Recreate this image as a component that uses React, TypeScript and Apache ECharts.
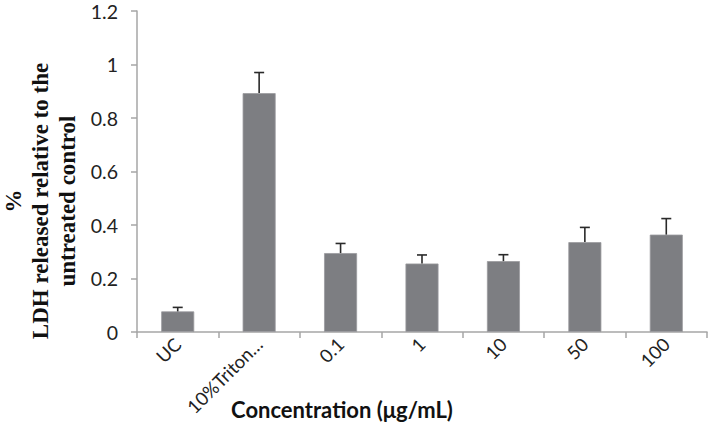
import React, { useEffect, useRef } from "react";
import * as echarts from "echarts";

const categories = ["UC", "10%Triton…", "0.1", "1", "10", "50", "100"];
const values = [0.077, 0.893, 0.295, 0.256, 0.265, 0.336, 0.364];
const errorTops = [0.092, 0.97, 0.331, 0.288, 0.289, 0.391, 0.424];
const yTicks = { min: 0, max: 1.2, interval: 0.2 };

export default function App() {
  const ref = useRef<HTMLDivElement>(null);
  useEffect(() => {
    const chart = echarts.init(ref.current!, undefined, { renderer: "svg" });
    const errData = categories.map((_, i) => [i, values[i], errorTops[i]]);
    chart.setOption({
      animation: false,
      backgroundColor: "#ffffff",
      grid: { left: 137, top: 11, right: 1, bottom: 92, containLabel: false },
      xAxis: {
        type: "category",
        data: categories,
        axisLine: { show: true, lineStyle: { color: "#a6a6a6", width: 1.5 } },
        axisTick: { show: true, length: 6, lineStyle: { color: "#a6a6a6", width: 1.5 } },
        axisLabel: {
          rotate: 45,
          margin: 9,
          interval: 0,
          fontFamily: "Lato",
          fontSize: 18.5,
          color: "#222222",
        },
      },
      yAxis: {
        type: "value",
        min: yTicks.min,
        max: yTicks.max,
        interval: yTicks.interval,
        splitLine: { show: false },
        axisLine: { show: true, lineStyle: { color: "#a6a6a6", width: 1.5 } },
        axisTick: { show: true, length: 6, lineStyle: { color: "#a6a6a6", width: 1.5 } },
        axisLabel: {
          margin: 19,
          fontFamily: "Lato",
          fontSize: 19.5,
          color: "#222222",
          formatter: (v: number) => String(Math.round(v * 10) / 10),
        },
      },
      series: [
        {
          type: "bar",
          data: values,
          barWidth: 33,
          itemStyle: { color: "#7d7e82", borderColor: "#9a9b9e", borderWidth: 0.8 },
        },
        {
          type: "custom",
          data: errData,
          z: 10,
          renderItem: (params: any, api: any) => {
            const x = api.value(0);
            const base = api.coord([x, api.value(1)]);
            const top = api.coord([x, api.value(2)]);
            const cap = 5;
            const style = { stroke: "#2a2a2a", lineWidth: 1.6 };
            return {
              type: "group",
              children: [
                { type: "line", shape: { x1: base[0], y1: base[1], x2: top[0], y2: top[1] }, style },
                { type: "line", shape: { x1: top[0] - cap, y1: top[1], x2: top[0] + cap, y2: top[1] }, style },
              ],
            };
          },
        },
      ],
      graphic: [
        {
          type: "text",
          x: 342,
          y: 409,
          style: {
            text: "Concentration (μg/mL)",
            fontFamily: "Lato",
            fontWeight: "bold",
            fontSize: 22,
            fill: "#111111",
            align: "center",
            verticalAlign: "middle",
          },
        },
        {
          type: "text",
          x: 40,
          y: 201,
          rotation: Math.PI / 2,
          style: {
            text: "%\nLDH released relative to the\nuntreated control",
            fontFamily: "Liberation Serif",
            fontWeight: "bold",
            fontSize: 23,
            lineHeight: 27,
            fill: "#111111",
            align: "center",
            verticalAlign: "middle",
          },
        },
      ],
    });
    return () => chart.dispose();
  }, []);
  return (
    <div
      ref={ref}
      style={{ position: "fixed", left: 0, top: 0, width: 708, height: 424 }}
    />
  );
}
